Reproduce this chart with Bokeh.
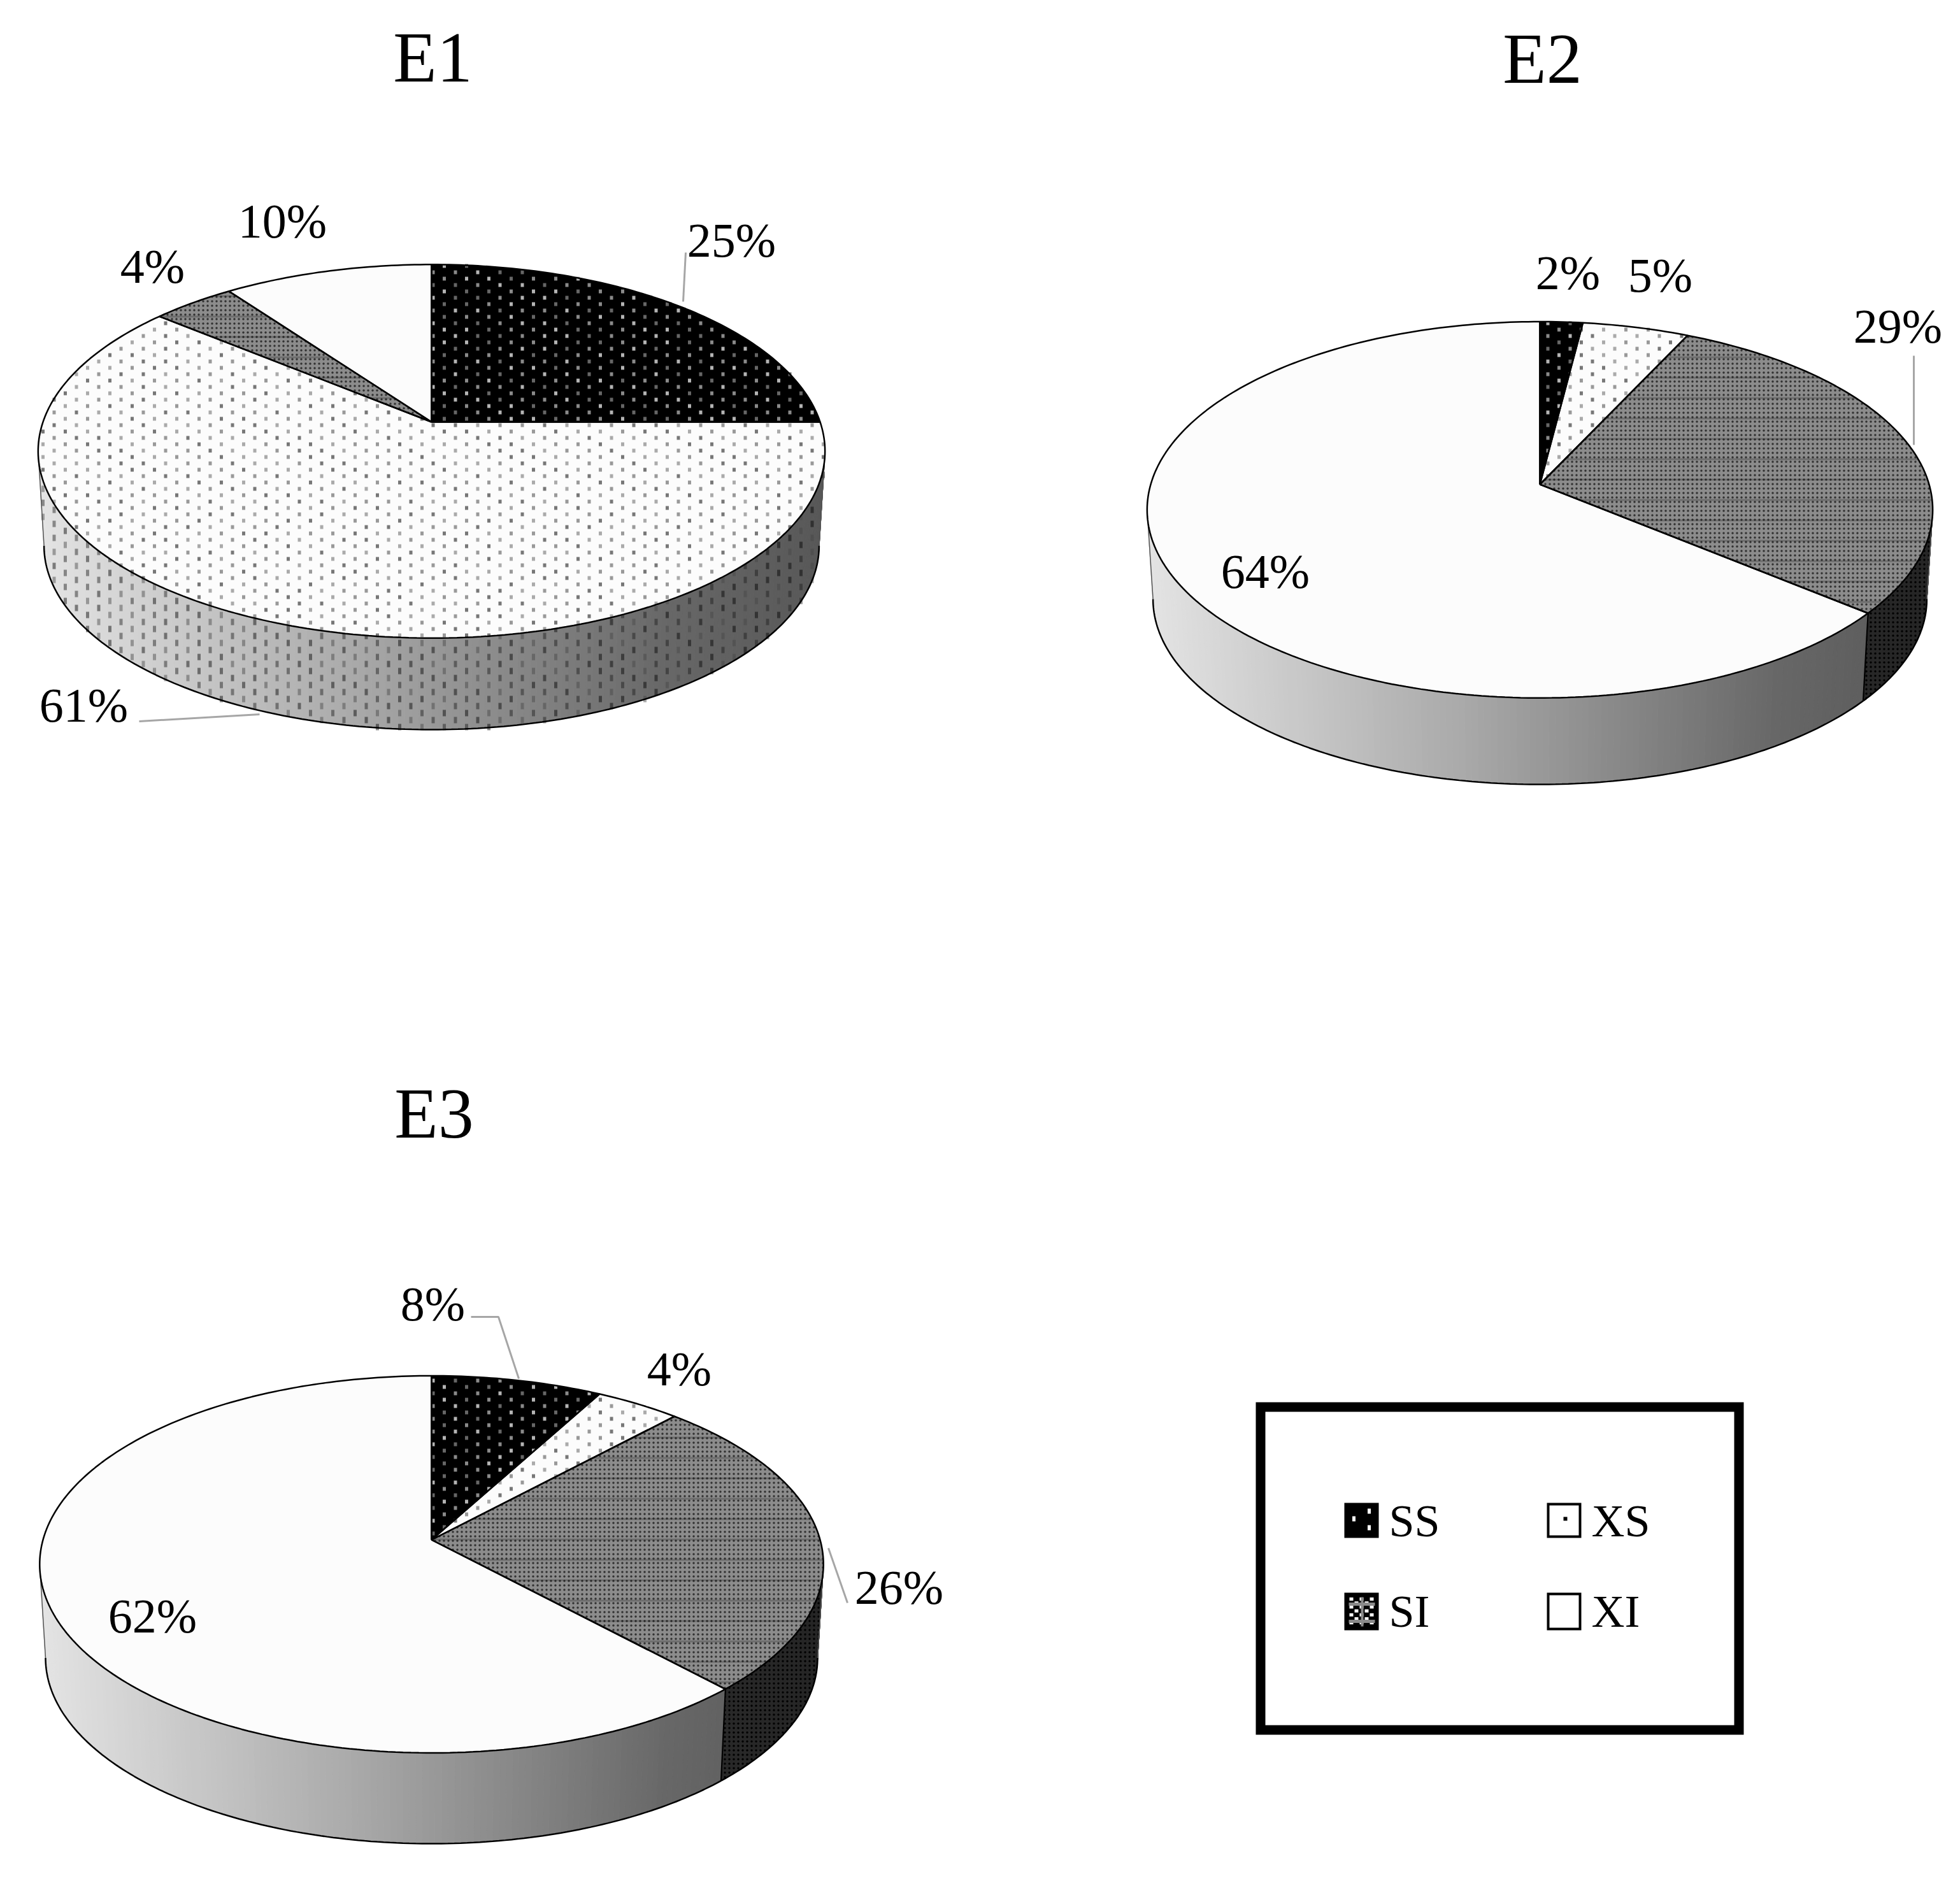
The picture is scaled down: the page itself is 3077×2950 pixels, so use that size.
import numpy as np
from bokeh.plotting import figure
from bokeh.models import Range1d
from bokeh.core.properties import value
from bokeh.embed import file_html
from bokeh.resources import INLINE

# ---- data ----
series_names = ["SS", "XS", "SI", "XI"]
E1_values = [25, 61, 4, 10]
E2_values = [2, 5, 29, 64]
E3_values = [8, 4, 26, 62]
titles = ["E1", "E2", "E3"]

FONT = "Liberation Serif"
W, H = 3061, 2934
p = figure(width=W, height=H, x_range=Range1d(3, W + 3), y_range=Range1d(H + 3, 3),
           output_backend="svg", toolbar_location=None, min_border=0)
p.axis.visible = False
p.grid.visible = False
p.outline_line_color = None
p.background_fill_color = "white"
p.border_fill_color = "white"


def project(t, cx, cy, A, B, k):
    r = np.radians(t)
    u, v = np.sin(r), np.cos(r)
    return cx + B * u / (1 + k * v), cy - A * v / (1 + k * v)


def in_poly(px, py, xs, ys):
    inside = np.zeros(px.shape, bool)
    n = len(xs)
    for i in range(n):
        x1, y1, x2, y2 = xs[i], ys[i], xs[(i + 1) % n], ys[(i + 1) % n]
        if y1 == y2:
            continue
        cond = (y1 > py) != (y2 > py)
        xint = x1 + (py - y1) * (x2 - x1) / (y2 - y1)
        inside ^= cond & (px < xint)
    return inside


def dots(xs, ys, colors, period=35.0, dy=10.0, w=5, h=6, alpha=1.0):
    xs, ys = np.asarray(xs), np.asarray(ys)
    X, Y = [], []
    for y in np.arange(np.floor(ys.min() / dy) * dy, ys.max(), dy):
        off = period / 2 if int(round(y / dy)) % 2 else 0
        x = np.arange(np.floor(xs.min() / period) * period + off, xs.max(), period)
        X.append(x)
        Y.append(np.full_like(x, y))
    X, Y = np.concatenate(X), np.concatenate(Y)
    m = in_poly(X, Y, xs, ys)
    if m.any():
        X, Y = X[m], Y[m]
        c = [colors[(i * 5 + i // 3) % len(colors)] for i in range(len(X))]
        p.rect(X, Y, width=w, height=h, fill_color=c, line_color=None, fill_alpha=alpha)


def gray(f, scale=1.0):
    g = np.interp(f, [0, .4, .8, 1], [228, 170, 104, 88]) * scale
    g = int(g)
    return f"#{g:02x}{g:02x}{g:02x}"


TOP = {"SS": "#000000", "XS": "#fcfcfc", "SI": "#8c8c8c", "XI": "#fcfcfc"}


def si_hatch(xs, ys):
    p.patch(xs, ys, fill_color=None, line_color=None, hatch_pattern="dot",
            hatch_color="#1a1a1a", hatch_scale=7, hatch_weight=1, hatch_alpha=0.8)
    p.patch(xs, ys, fill_color=None, line_color=None, hatch_pattern="horizontal_line",
            hatch_color="#000000", hatch_scale=32, hatch_weight=3, hatch_alpha=0.22)


def pie(values, cx, cy, A, B, k, bottom, s=0.985):
    A2, B2 = A * s, B * s
    cy2 = bottom - A2 / (1 - k)
    tr, tl = 90 + np.degrees(np.arcsin(k)), 270 - np.degrees(np.arcsin(k))
    edges = np.cumsum([0] + list(values)) * 3.6
    R = B / np.sqrt(1 - k * k)
    # side wall
    for name, a, b in zip(series_names, edges[:-1], edges[1:]):
        a2, b2 = max(a, tr), min(b, tl)
        if b2 <= a2:
            continue
        ts = np.linspace(a2, b2, max(2, int((b2 - a2) * 1.2) + 1))
        ux, uy = project(ts, cx, cy, A, B, k)
        lx, ly = project(ts, cx, cy2, A2, B2, k)
        scale = 0.42 if name == "SI" else 1.0
        for i in range(len(ts) - 1):
            f = ((ux[i] + ux[i + 1]) / 2 - (cx - R)) / (2 * R)
            c = gray(f, scale)
            p.patch([ux[i], ux[i + 1], lx[i + 1], lx[i]], [uy[i], uy[i + 1], ly[i + 1], ly[i]],
                    fill_color=c, line_color=c, line_width=1)
        wx = np.r_[ux, lx[::-1]]
        wy = np.r_[uy, ly[::-1]]
        if name == "SI":
            p.patch(wx, wy, fill_color=None, line_color=None, hatch_pattern="dot",
                    hatch_color="#000000", hatch_scale=7, hatch_weight=1)
        elif name == "XS":
            dots(wx, wy, ["#000000", "#1a1a1a", "#444444"], period=35, dy=11, w=5, h=10, alpha=0.45)
        p.line(lx, ly, line_color="#000000", line_width=2.5)
        for t0 in (a2, b2):
            if t0 not in (tr, tl):
                x0, y0 = project(t0, cx, cy, A, B, k)
                x1, y1 = project(t0, cx, cy2, A2, B2, k)
                p.line([x0, x1], [y0, y1], line_color="#000000", line_width=2)
    # silhouette sides
    for t0 in (tr, tl):
        x0, y0 = project(t0, cx, cy, A, B, k)
        x1, y1 = project(t0, cx, cy2, A2, B2, k)
        p.line([x0, x1], [y0, y1], line_color="#555555", line_width=1.5)
    # top face
    for name, a, b in zip(series_names, edges[:-1], edges[1:]):
        ts = np.linspace(a, b, max(3, int(b - a) + 2))
        ax, ay = project(ts, cx, cy, A, B, k)
        xs, ys = np.r_[cx, ax], np.r_[cy, ay]
        p.patch(xs, ys, fill_color=TOP[name], line_color=None)
        if name == "SI":
            si_hatch(xs, ys)
        elif name == "SS":
            dots(xs, ys, ["#b4b4b4", "#8a8a8a", "#666666"])
        elif name == "XS":
            dots(xs, ys, ["#777777", "#999999", "#aaaaaa"])
    for name, a, b in zip(series_names, edges[:-1], edges[1:]):
        ts = np.linspace(a, b, max(3, int(b - a) + 2))
        ax, ay = project(ts, cx, cy, A, B, k)
        p.line(np.r_[cx, ax, cx], np.r_[cy, ay, cy], line_color="#000000", line_width=2.5)


pie(E1_values, 680, 665, 286, 610, 0.157, 1148)
pie(E2_values, 2420, 763, 290, 611, 0.135, 1234)
pie(E3_values, 680, 2420, 291, 610, 0.130, 2897)

# ---- titles and value labels ----
title_x = [682, 2424, 684]
title_y = [92, 94, 1750]
p.text(title_x, title_y, text=titles, text_font=value(FONT), text_font_size="112px",
       text_align="center", text_baseline="middle", text_color="#000000")

label_text = [f"{v}%" for v in E1_values + E2_values + E3_values]
label_x = [1151, 134, 242, 446, 2464, 2609, 2982, 1989, 682, 1069, 1414, 242]
label_y = [379, 1109, 420, 349, 430, 434, 514, 899, 2049, 2151, 2494, 2539]
p.text(label_x, label_y, text=label_text, text_font=value(FONT), text_font_size="76px",
       text_align="center", text_baseline="middle", text_color="#000000")

# leader lines
leaders = [([1079, 1075], [399, 476]), ([221, 410], [1135, 1124]), ([3007, 3007], [561, 701]),
           ([742, 785, 817], [2070, 2070, 2167]), ([1303, 1333], [2433, 2519])]
for lx_, ly_ in leaders:
    p.line(lx_, ly_, line_color="#a6a6a6", line_width=3)

# ---- legend ----
p.quad(left=[1981.5], right=[2732.5], top=[2211.5], bottom=[2718.5], fill_color="white",
       line_color="#000000", line_width=15, line_join="miter")
sw_left = [2115, 2433, 2115, 2433]
sw_right = [2165, 2483, 2165, 2483]
sw_top = [2364, 2364, 2505, 2505]
sw_bottom = [2415, 2415, 2560, 2560]
sw_fill = ["#000000", "#ffffff", "#000000", "#ffffff"]
p.quad(left=sw_left, right=sw_right, top=sw_top, bottom=sw_bottom, fill_color=sw_fill,
       line_color="#000000", line_width=4, line_join="miter")
# SI key: a small checker of white cells with gray bars
cx_ = [2124 + 8 * i for i in range(5) for j in range(7) if (i + j) % 2 == 0]
cy_ = [2513 + 6.2 * j for i in range(5) for j in range(7) if (i + j) % 2 == 0]
p.rect(cx_, cy_, width=6, height=5, fill_color="#ffffff", line_color=None)
p.rect([2140.5, 2140.5], [2521, 2548], width=41, height=5, fill_color="#8a8a8a", line_color=None)
p.rect([2141], [2533], width=4, height=46, fill_color="#8a8a8a", line_color=None)
p.rect([2128, 2152, 2152], [2387, 2375, 2401], width=5, height=8, fill_color="#ffffff", line_color=None)
p.rect([2460], [2387], width=6, height=6, fill_color="#000000", line_color=None)
leg_x = [2183, 2501, 2183, 2501]
leg_y = [2390, 2390, 2532, 2532]
p.text(leg_x, leg_y, text=series_names, text_font=value(FONT), text_font_size="72px",
       text_align="left", text_baseline="middle", text_color="#000000")

open("out.html", "w").write(file_html(p, INLINE))
